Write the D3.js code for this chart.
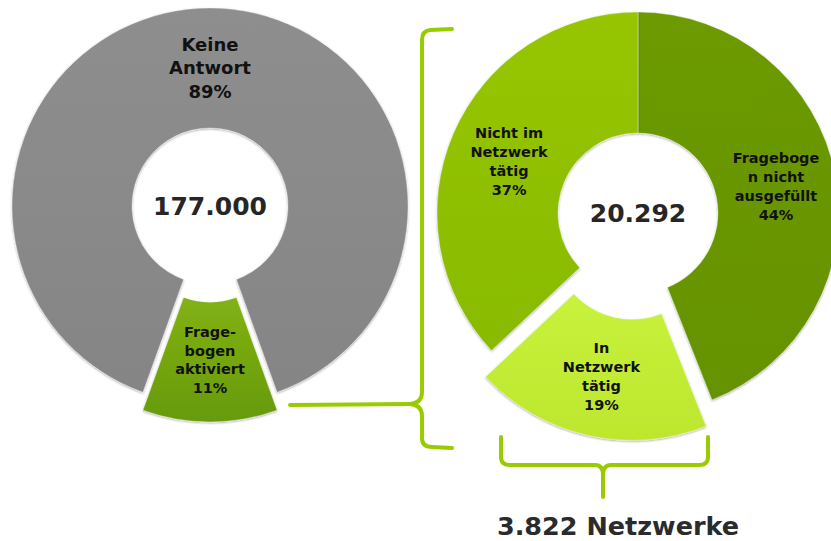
<!DOCTYPE html>
<html>
<head>
<meta charset="utf-8">
<script src="https://cdn.jsdelivr.net/npm/d3@7"></script>
<style>
	html, body { margin: 0; padding: 0; background: #fff; }
	svg { display: block; }
	text { font-family: "DejaVu Sans", Verdana, sans-serif; font-weight: bold; }
</style>
</head>
<body>
<svg id="chart" width="831" height="541"></svg>
<script>
// left donut: all questionnaires sent
const leftCategories = [["Keine", "Antwort"], ["Frage-", "bogen", "aktiviert"]];
const leftValues = [89, 11];
const leftTotal = "177.000";

// right donut: activated questionnaires
const rightCategories = [["Frageboge", "n nicht", "ausgefüllt"], ["In", "Netzwerk", "tätig"], ["Nicht im", "Netzwerk", "tätig"]];
const rightValues = [44, 19, 37];
const rightTotal = "20.292";

const networksLabel = "3.822 Netzwerke";

const svg = d3.select("#chart");
const defs = svg.append("defs");

function addGradient(id, top, bottom) {
	const g = defs.append("linearGradient").attr("id", id)
		.attr("x1", 0).attr("y1", 0).attr("x2", 0).attr("y2", 1);
	g.append("stop").attr("offset", "0%").attr("stop-color", top);
	g.append("stop").attr("offset", "100%").attr("stop-color", bottom);
}
addGradient("gGray", "#8e8e8e", "#858585");
addGradient("gGreenL", "#82b214", "#679a08");
addGradient("gDark", "#6c9a00", "#659200");
addGradient("gMid", "#97c600", "#88ba00");
addGradient("gYellow", "#c8f23c", "#bde62e");

const shadow = defs.append("filter").attr("id", "shadow")
	.attr("x", "-10%").attr("y", "-10%").attr("width", "120%").attr("height", "120%");
shadow.append("feDropShadow").attr("dx", 0).attr("dy", 1).attr("stdDeviation", 1.2)
	.attr("flood-color", "#000").attr("flood-opacity", 0.35);

function drawDonut(opts) {
	const { cx, cy, inner, outer, values, labels, fills, start, explode, offset, total, fontSize, lineH, nudge } = opts;
	const pie = d3.pie().sort(null).value(d => d)
		.startAngle(start).endAngle(start + 2 * Math.PI);
	const arc = d3.arc().innerRadius(inner).outerRadius(outer);
	const arcs = pie(values);
	const g = svg.append("g").attr("transform", `translate(${cx},${cy})`);

	const slice = g.selectAll("g.slice").data(arcs).join("g")
		.attr("class", "slice")
		.attr("transform", (d, i) => {
			if (i !== explode) return null;
			const a = (d.startAngle + d.endAngle) / 2;
			return `translate(${offset * Math.sin(a)},${-offset * Math.cos(a)})`;
		});

	slice.append("path")
		.attr("d", arc)
		.attr("fill", (d, i) => `url(#${fills[i]})`)
		.attr("stroke", "rgba(255,255,255,0.35)")
		.attr("stroke-width", 1)
		.attr("filter", "url(#shadow)");

	slice.each(function (d, i) {
		const [x, y0] = arc.centroid(d);
		const y = y0 + (nudge ? nudge[i] : 0);
		const lines = labels[i].concat([`${values[i]}%`]);
		const fs = fontSize[i];
		const lh = lineH[i];
		const t = d3.select(this).append("text")
			.attr("text-anchor", "middle")
			.attr("fill", "#111")
			.style("font-size", `${fs}px`);
		lines.forEach((l, k) => {
			t.append("tspan")
				.attr("x", x)
				.attr("y", y + (k - (lines.length - 1) / 2) * lh)
				.attr("dy", "0.36em")
				.text(l);
		});
	});

	g.append("text")
		.attr("text-anchor", "middle")
		.attr("dy", "0.36em")
		.attr("fill", "#262626")
		.style("font-size", "25px")
		.text(total);
}

const leftShare = leftValues[1] / d3.sum(leftValues);
drawDonut({
	cx: 210, cy: 206, inner: 78, outer: 198,
	values: leftValues, labels: leftCategories,
	fills: ["gGray", "gGreenL"],
	start: Math.PI + leftShare * Math.PI,
	explode: 1, offset: 18,
	total: leftTotal,
	fontSize: [18, 14.5], lineH: [23.5, 18.5],
	nudge: [0, -2]
});

drawDonut({
	cx: 638, cy: 213, inner: 80, outer: 201,
	values: rightValues, labels: rightCategories,
	fills: ["gDark", "gYellow", "gMid"],
	start: 0,
	explode: 1, offset: 27,
	total: rightTotal,
	fontSize: [14.5, 14.5, 14.5], lineH: [19, 19, 19],
	nudge: [0, 0, 4]
});

// braces
const braceColor = "#99cc00";
const brace = svg.append("g")
	.attr("fill", "none")
	.attr("stroke", braceColor)
	.attr("stroke-width", 4)
	.attr("stroke-linecap", "round")
	.attr("stroke-linejoin", "round");

// large brace linking the activated slice to the right donut
brace.append("path")
	.attr("d", "M452,29 L430,30 Q422,31 422,40 L422,392 Q422,403 410,404 Q422,405 422,416 L422,438 Q422,447 432,447 L452,448");
brace.append("path")
	.attr("d", "M290,405 L410,404");

// bottom brace under the "In Netzwerk tätig" slice
brace.append("path")
	.attr("d", "M501,437 L501,457 Q501,465 510,465 L595,465 Q603,465 603,475 L603,497 M603,475 Q603,465 611,465 L699,465 Q708,465 708,457 L708,437");

svg.append("text")
	.attr("x", 618)
	.attr("y", 535)
	.attr("text-anchor", "middle")
	.attr("fill", "#2b2b2b")
	.style("font-size", "25.5px")
	.text(networksLabel);
</script>
</body>
</html>
